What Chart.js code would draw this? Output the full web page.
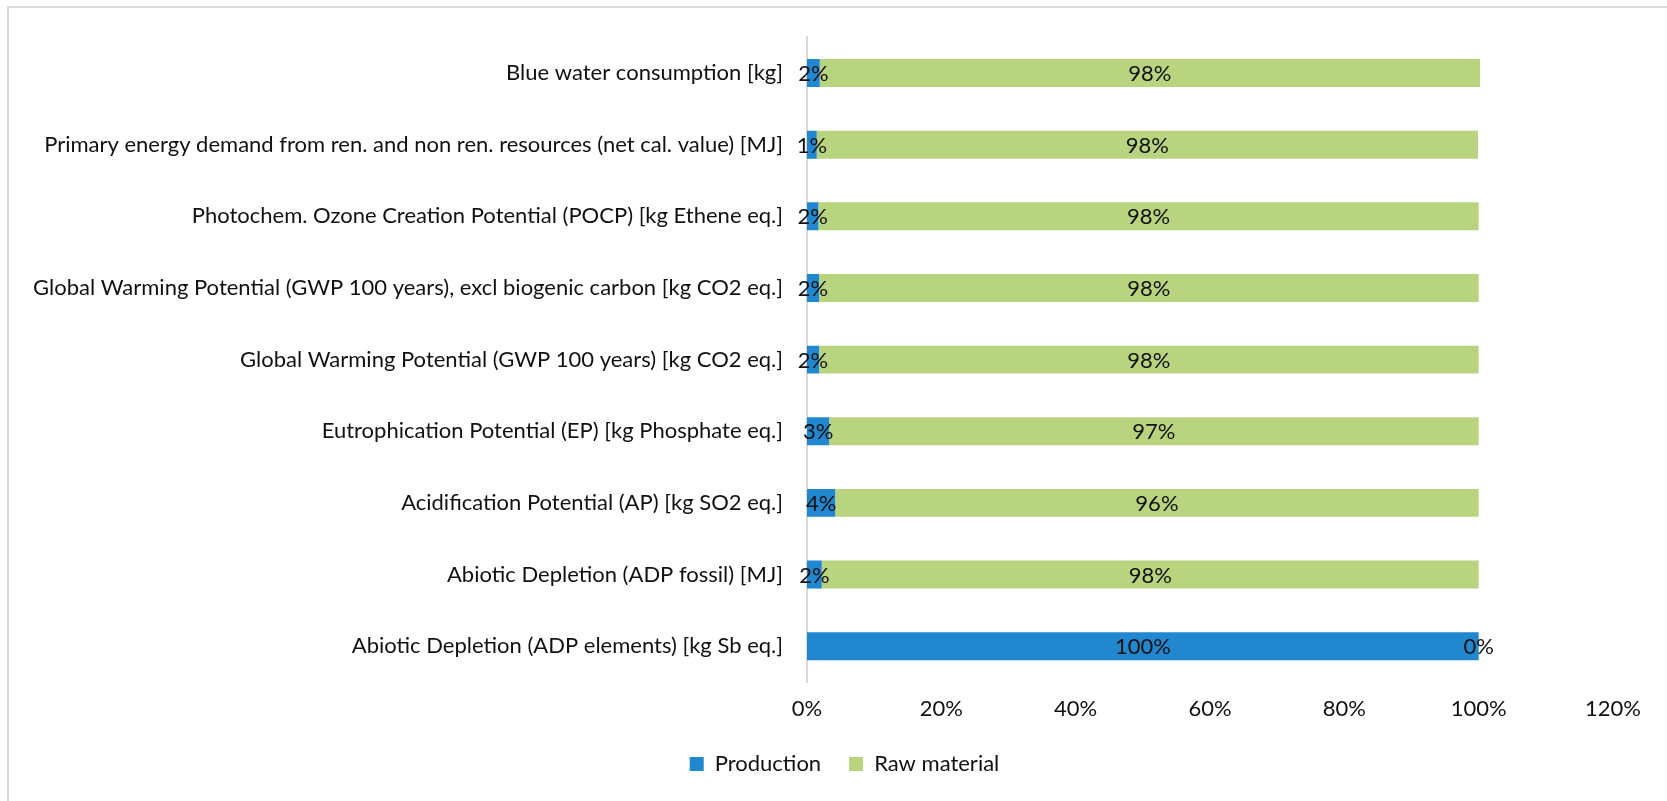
<!DOCTYPE html>
<html>
<head>
<meta charset="utf-8">
<title>Environmental impact shares</title>
<script src="https://cdn.jsdelivr.net/npm/chart.js@4.4.1/dist/chart.umd.min.js"></script>
<style>
  html, body { margin: 0; padding: 0; background: #ffffff; }
  #wrap { position: relative; width: 1667px; height: 801px; }
</style>
</head>
<body>
<div id="wrap"><canvas id="chart"></canvas></div>
<script>
// Impact categories, listed top to bottom
const categories = [
  'Blue water consumption [kg]',
  'Primary energy demand from ren. and non ren. resources (net cal. value) [MJ]',
  'Photochem. Ozone Creation Potential (POCP) [kg Ethene eq.]',
  'Global Warming Potential (GWP 100 years), excl biogenic carbon [kg CO2 eq.]',
  'Global Warming Potential (GWP 100 years) [kg CO2 eq.]',
  'Eutrophication Potential (EP) [kg Phosphate eq.]',
  'Acidification Potential (AP) [kg SO2 eq.]',
  'Abiotic Depletion (ADP fossil) [MJ]',
  'Abiotic Depletion (ADP elements) [kg Sb eq.]'
];

// Share of each impact (percent)
const production  = [1.9, 1.45, 1.7, 1.8, 1.8, 3.3, 4.2, 2.2, 100];
const rawMaterial = [98.3, 98.45, 98.3, 98.2, 98.2, 96.7, 95.8, 97.8, 0];

// Horizontal axis ticks
const xTicks = [0, 20, 40, 60, 80, 100, 120];

const FONT = 'Lato, "Open Sans", sans-serif';
const TEXT = '#111111';
const AXIS_X = 807;
const LEGEND_SHIFT = 38;

// Light frame along the left and top edges
const framePlugin = {
  id: 'frame',
  beforeDraw(chart) {
    const ctx = chart.ctx;
    ctx.save();
    ctx.fillStyle = '#d9d9d9';
    ctx.fillRect(7, 6, 2, chart.height - 6);
    ctx.fillRect(7, 6, chart.width - 7, 2);
    ctx.restore();
  }
};

// Nudge the legend row to the right of the canvas centre
const legendShift = {
  id: 'legendShift',
  afterLayout(chart) {
    if (chart.legend) {
      chart.legend.left += LEGEND_SHIFT;
      chart.legend.right += LEGEND_SHIFT;
    }
  }
};

// Percentage labels centred on each bar segment
const segmentLabels = {
  id: 'segmentLabels',
  afterDatasetsDraw(chart) {
    const ctx = chart.ctx;
    ctx.save();
    ctx.font = '22px ' + FONT;
    ctx.fillStyle = TEXT;
    ctx.textAlign = 'center';
    ctx.textBaseline = 'middle';
    chart.data.datasets.forEach((ds, i) => {
      const meta = chart.getDatasetMeta(i);
      if (meta.hidden) return;
      meta.data.forEach((bar, j) => {
        const p = bar.getProps(['x', 'y', 'base'], true);
        ctx.fillText(Math.round(ds.data[j]) + '%', (p.x + p.base) / 2, p.y + 1);
      });
    });
    ctx.restore();
  }
};

new Chart(document.getElementById('chart'), {
  type: 'bar',
  data: {
    labels: categories,
    datasets: [
      {
        label: 'Production',
        data: production,
        backgroundColor: '#2187cf',
        barPercentage: 0.39,
        categoryPercentage: 1.0
      },
      {
        label: 'Raw material',
        data: rawMaterial,
        backgroundColor: '#b9d47e',
        barPercentage: 0.39,
        categoryPercentage: 1.0
      }
    ]
  },
  options: {
    indexAxis: 'y',
    responsive: true,
    maintainAspectRatio: false,
    animation: false,
    layout: { padding: { top: 35, right: 54, bottom: 16, left: 0 } },
    scales: {
      x: {
        stacked: true,
        min: 0,
        max: 120,
        afterBuildTicks(scale) {
          scale.ticks = xTicks.map(v => ({ value: v }));
        },
        afterFit(scale) { scale.height = 43; },
        grid: { display: false, drawTicks: false },
        border: { display: false },
        ticks: {
          padding: 14,
          color: TEXT,
          font: { family: FONT, size: 22 },
          maxRotation: 0,
          callback: v => v + '%'
        }
      },
      y: {
        stacked: true,
        afterFit(scale) { scale.width = AXIS_X; },
        grid: { display: false, drawTicks: false },
        border: { display: true, color: '#d9d9d9', width: 2 },
        ticks: {
          padding: 24,
          color: TEXT,
          font: { family: FONT, size: 22 },
          autoSkip: false
        }
      }
    },
    plugins: {
      legend: {
        position: 'bottom',
        labels: {
          boxWidth: 14,
          boxHeight: 14,
          padding: 28,
          color: TEXT,
          font: { family: FONT, size: 22 }
        }
      },
      tooltip: { enabled: false }
    }
  },
  plugins: [framePlugin, legendShift, segmentLabels]
});
</script>
</body>
</html>
